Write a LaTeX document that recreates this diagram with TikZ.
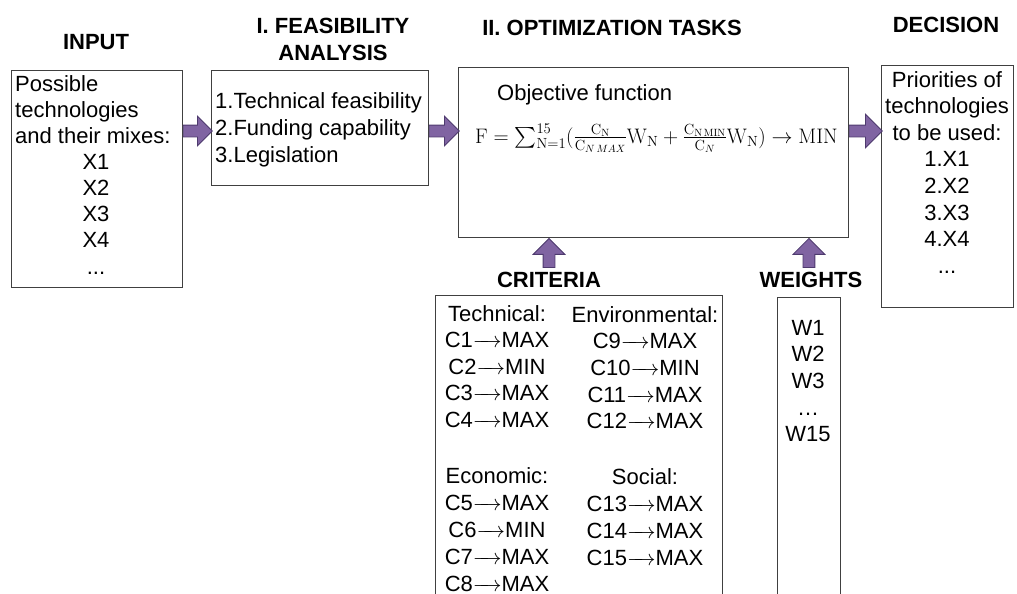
\RequirePackage{fix-cm}
\documentclass[tikz,border=0pt]{standalone}
\usepackage{exscale}
\usepackage[no-math]{fontspec}
\setmainfont{Liberation Sans}
\usetikzlibrary{shapes.arrows,positioning}

\definecolor{arrowfill}{HTML}{8064A2}
\definecolor{arrowedge}{HTML}{4E3A6E}

% short "goes to" arrow used in the criteria list
\newcommand{\goes}{\makebox[1.3em]{\rightarrowfill}}
% trailing dots of a list (kept out of \foreach's range syntax)
\newcommand{\more}{...}

\tikzset{
  box/.style={draw=black!75, line width=0.9pt, inner sep=0pt, anchor=north west},
  txt/.style={anchor=base, inner sep=0pt},
  ltxt/.style={anchor=base west, inner sep=0pt},
  head/.style={anchor=base, inner sep=0pt, align=center, font=\bfseries\fontsize{22}{27}\selectfont},
  blockarrow/.style={single arrow, draw=arrowedge, fill=arrowfill, line width=0.8pt,
    inner xsep=0pt, inner ysep=5.5pt, single arrow head extend=9pt, minimum height=29pt, anchor=tail},
}

\begin{document}
\begin{tikzpicture}[x=1pt, y=1pt, font=\fontsize{22}{26}\selectfont]
        \useasboundingbox (0,0) rectangle (1017,-594);
        \clip (0,0) rectangle (1017,-594);

        % draw headers
        \node[head] (hinput) at (96,-50) {INPUT};
        \node[head, anchor=north] (hfeas) at (333,-18) {I. FEASIBILITY\\ANALYSIS};
        \node[head] (hopt) at (612,-36) {II. OPTIMIZATION TASKS};
        \node[head] (hdec) at (946,-33) {DECISION};

        % draw boxes
        \node[box, minimum width=171pt, minimum height=217pt] (input) at (11,-70) {};
        \node[box, minimum width=217pt, minimum height=115pt] (feas) at (211,-70) {};
        \node[box, minimum width=390pt, minimum height=170pt] (opt) at (458,-67) {};
        \node[box, minimum width=132pt, minimum height=242pt] (dec) at (881,-65) {};
        \node[box, minimum width=287pt, minimum height=330pt] (crit) at (435,-295) {};
        \node[box, minimum width=63pt, minimum height=330pt] (wts) at (777,-297) {};

        % input box
        \node[ltxt] (in1) at (15,-91) {Possible};
        \node[ltxt] (in2) at (15,-117) {technologies};
        \node[ltxt] (in3) at (15,-143) {and their mixes:};
        \foreach \t [count=\i] in {X1, X2, X3, X4, \more}{
          \node[txt] (x\i) at (96,-143-26.2*\i) {\t};
        }

        % feasibility box
        \foreach \t [count=\i from 0] in {1.Technical feasibility, 2.Funding capability, 3.Legislation}{
          \node[ltxt] (f\i) at (215,-108-27*\i) {\t};
        }

        % optimization box
        \node[ltxt] (objlbl) at (497,-100) {Objective function};
        \node[ltxt, font=\fontsize{21}{26}\selectfont] (formula) at (475,-143) {$\mathrm{F}=\sum_{\mathrm{N}=1}^{15}(\frac{\mathrm{C_N}}{\mathrm{C}_{N\,MAX}}\mathrm{W_N}+\frac{\mathrm{C_{N\,MIN}}}{\mathrm{C}_N}\mathrm{W_N})\rightarrow\mathrm{MIN}$};

        % decision box
        \foreach \t [count=\i from 0] in {Priorities of, technologies, to be used:, 1.X1, 2.X2, 3.X3, 4.X4, \more}{
          \node[txt] (d\i) at (947,-87-26.6*\i) {\t};
        }

        % criteria and weights
        \node[head] (hcrit) at (549,-287) {CRITERIA};
        \node[head] (hwts) at (811,-287) {WEIGHTS};
        \foreach \t [count=\i from 0] in {Technical:, C1\goes MAX, C2\goes MIN, C3\goes MAX, C4\goes MAX}{
          \node[txt] (tech\i) at (497,-321-26.6*\i) {\t};
        }
        \foreach \t [count=\i from 0] in {Economic:, C5\goes MAX, C6\goes MIN, C7\goes MAX, C8\goes MAX}{
          \node[txt] (econ\i) at (497,-483-27*\i) {\t};
        }
        \foreach \t [count=\i from 0] in {Environmental:, C9\goes MAX, C10\goes MIN, C11\goes MAX, C12\goes MAX}{
          \node[txt] (env\i) at (645,-322-26.7*\i) {\t};
        }
        \foreach \t [count=\i from 0] in {Social:, C13\goes MAX, C14\goes MAX, C15\goes MAX}{
          \node[txt] (soc\i) at (645,-484-27*\i) {\t};
        }
        \foreach \t [count=\i from 0] in {W1, W2, W3, \dots, W15}{
          \node[txt] (w\i) at (808,-335-26.7*\i) {\t};
        }

        % draw arrows
        \coordinate (lvl) at (0,-131);
        \node[blockarrow] (a1) at (input.east |- lvl) {};
        \node[blockarrow, minimum height=30pt] (a2) at (feas.east |- lvl) {};
        \node[blockarrow, minimum height=33pt, single arrow head extend=11pt] (a3) at (opt.east |- lvl) {};
        \node[blockarrow, rotate=90, anchor=tip, minimum height=29pt, single arrow head extend=10pt] (ac) at (hcrit |- opt.south) {};
        \node[blockarrow, rotate=90, anchor=tip, minimum height=29pt, single arrow head extend=10pt] (aw) at (wts |- opt.south) {};
      \end{tikzpicture}
\end{document}
